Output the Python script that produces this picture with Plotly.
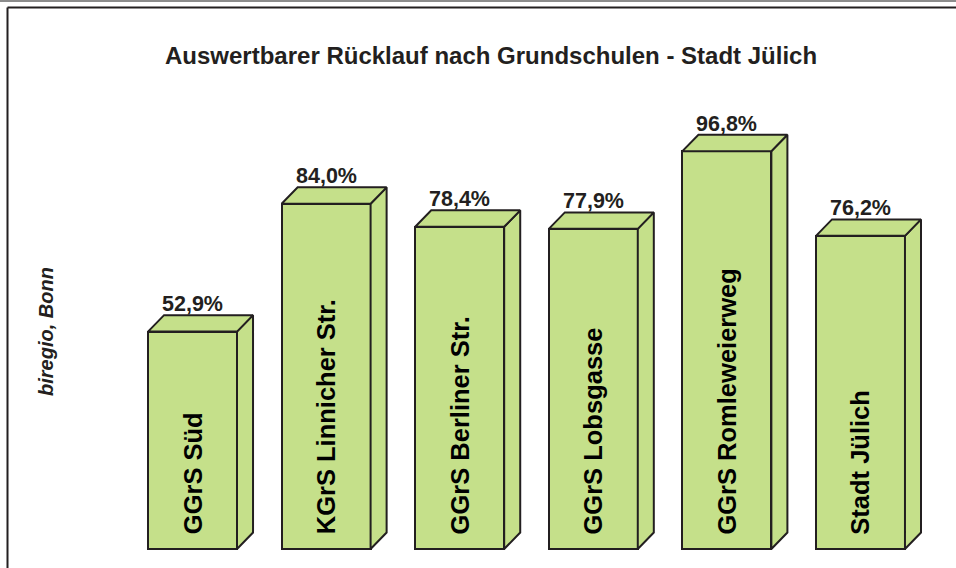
import plotly.graph_objects as go

categories = ["GGrS Süd", "KGrS Linnicher Str.", "GGrS Berliner Str.", "GGrS Lobsgasse",
              "GGrS Romleweierweg", "Stadt Jülich"]
values = [52.9, 84.0, 78.4, 77.9, 96.8, 76.2]
value_labels = ["52,9%", "84,0%", "78,4%", "77,9%", "96,8%", "76,2%"]
title_text = "Auswertbarer Rücklauf nach Grundschulen - Stadt Jülich"
source_text = "biregio, Bonn"

W, H = 956, 568
green = "#C5E08A"
edge = "#231F20"
bw = 0.666   # bar width (category units)
dx = 0.12    # depth offset x
dy = 4.0     # depth offset y (percent units)
FONT = "Liberation Sans, Arial, sans-serif"

fig = go.Figure()
xs = list(range(len(categories)))

# side and top faces
for i, v in zip(xs, values):
    r = i + bw / 2
    l = i - bw / 2
    fig.add_trace(go.Scatter(
        x=[r, r + dx, r + dx, r, r], y=[0, dy, v + dy, v, 0],
        fill="toself", fillcolor=green, mode="lines",
        line=dict(color=edge, width=2), hoverinfo="skip", showlegend=False))
    fig.add_trace(go.Scatter(
        x=[l, r, r + dx, l + dx, l], y=[v, v, v + dy, v + dy, v],
        fill="toself", fillcolor=green, mode="lines",
        line=dict(color=edge, width=2), hoverinfo="skip", showlegend=False))

# front faces
fig.add_trace(go.Bar(x=xs, y=values, width=bw, marker=dict(color=green, line=dict(color=edge, width=2)),
                     hoverinfo="skip", showlegend=False))

annotations = []
for i, v, cat, lab in zip(xs, values, categories, value_labels):
    annotations.append(dict(x=i, y=3.0, xref="x", yref="y", text="<b>%s</b>" % cat,
                            textangle=-90, showarrow=False, xanchor="center", yanchor="bottom",
                            font=dict(family=FONT, size=25.5, color="#000000")))
    annotations.append(dict(x=i, y=v + dy, xref="x", yref="y", text="<b>%s</b>" % lab,
                            showarrow=False, xanchor="center", yanchor="bottom", yshift=-3,
                            font=dict(family=FONT, size=21.5, color="#231F20")))

annotations.append(dict(x=491.5 / W, y=1 - 55 / H, xref="paper", yref="paper",
                        text="<b>%s</b>" % title_text, showarrow=False,
                        xanchor="center", yanchor="middle",
                        font=dict(family=FONT, size=24, color="#231F20")))
annotations.append(dict(x=46 / W, y=1 - 332 / H, xref="paper", yref="paper",
                        text="<b><i>%s</i></b>" % source_text, showarrow=False, textangle=-90,
                        xanchor="center", yanchor="middle",
                        font=dict(family=FONT, size=20, color="#231F20")))

shapes = [
    dict(type="line", xref="paper", yref="paper", x0=0, x1=1, y0=1 - 1 / H, y1=1 - 1 / H,
         line=dict(color="#8C8C8C", width=2)),
    dict(type="line", xref="paper", yref="paper", x0=7.5 / W, x1=1, y0=1 - 7.5 / H, y1=1 - 7.5 / H,
         line=dict(color="#231F20", width=2)),
    dict(type="line", xref="paper", yref="paper", x0=7.5 / W, x1=7.5 / W, y0=0, y1=1 - 7.5 / H,
         line=dict(color="#231F20", width=2)),
]

fig.update_layout(
    width=W, height=H,
    margin=dict(l=0, r=0, t=0, b=0),
    paper_bgcolor="white", plot_bgcolor="white",
    xaxis=dict(range=[-1.441, 5.715], visible=False, fixedrange=True),
    yaxis=dict(range=[-4.62, 133.58], visible=False, fixedrange=True),
    annotations=annotations, shapes=shapes, showlegend=False, bargap=0,
)

fig.write_html("out.html", config={"displayModeBar": False},
               post_script="document.body.style.margin='0px';document.body.style.overflow='hidden';")
